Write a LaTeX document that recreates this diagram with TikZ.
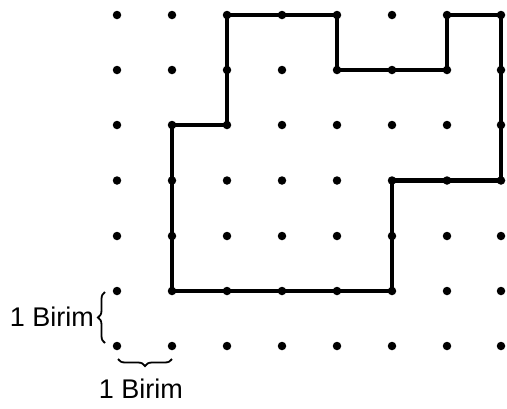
\documentclass[tikz,border=0pt]{standalone}
\usepackage{fontspec}
\setmainfont{Liberation Sans}
\usetikzlibrary{decorations.pathreplacing}
\begin{document}
\begin{tikzpicture}[x=1pt,y=-1pt,
  griddot/.style={circle,fill=black,inner sep=0pt,minimum size=8.5pt},
  outline/.style={line width=4.8pt,line join=miter,line cap=butt},
  bracestyle/.style={decorate,decoration={brace,amplitude=7pt},line width=1.8pt},
  lbl/.style={font=\fontsize{27}{30}\selectfont,inner sep=0pt}]
\useasboundingbox (0,0) rectangle (507,408);
\foreach \i/\x in {0/117,1/172,2/227,3/282,4/337,5/392,6/447,7/501}{
  \foreach \j/\y in {0/15,1/70,2/125,3/180.5,4/236,5/291,6/346}{
    \coordinate (p-\i-\j) at (\x,\y);
  }
}
\draw[outline] (p-2-0) -- (p-4-0) -- (p-4-1) -- (p-6-1) -- (p-6-0) -- (p-7-0)
  -- (p-7-3) -- (p-5-3) -- (p-5-5) -- (p-1-5) -- (p-1-2) -- (p-2-2) -- cycle;
\foreach \i in {0,...,7}{
  \foreach \j in {0,...,6}{
    \node[griddot] (d-\i-\j) at (p-\i-\j) {};
  }
}
\coordinate (lb1) at (105,343);
\coordinate (lb2) at (105,292);
\draw[bracestyle] (lb1) -- (lb2);
\coordinate (bb1) at (172,359);
\coordinate (bb2) at (118,359);
\draw[bracestyle] (bb1) -- (bb2);
\node[lbl,anchor=east] (lt) at (94,317) {1 Birim};
\node[lbl,anchor=center] (bt) at (141,389) {1 Birim};
\end{tikzpicture}
\end{document}
